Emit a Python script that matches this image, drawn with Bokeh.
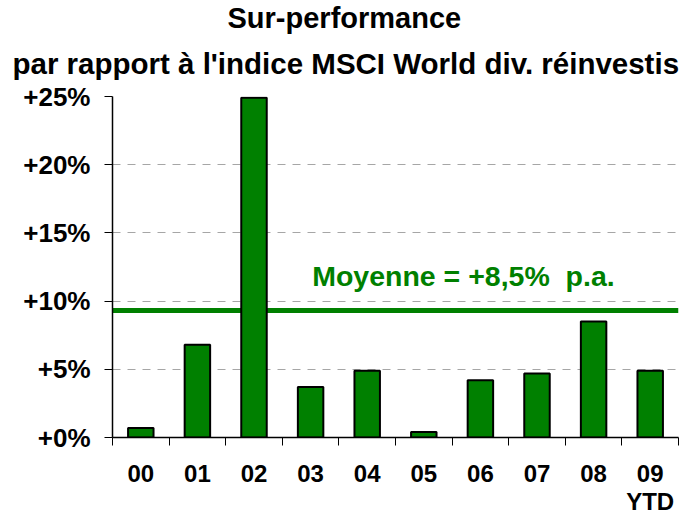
from bokeh.plotting import figure
from bokeh.models import FixedTicker, Label, Title
from bokeh.embed import file_html
from bokeh.resources import INLINE

# ---- data ----
years = ["00", "01", "02", "03", "04", "05", "06", "07", "08", "09\nYTD"]
outperformance = [0.7, 6.8, 24.9, 3.7, 4.9, 0.4, 4.2, 4.7, 8.5, 4.9]
average_level = 9.3
average_text = "Moyenne = +8,5%\u00a0 p.a."
y_ticks = [0, 5, 10, 15, 20, 25]
y_tick_labels = ["+0%", "+5%", "+10%", "+15%", "+20%", "+25%"]
title_lines = ["Sur-performance",
               "par rapport à l'indice MSCI World div. réinvestis"]

GREEN = "#008000"
FONT = "Liberation Sans"

centers = [i + 0.5 for i in range(len(years))]
bounds = list(range(len(years) + 1))

p = figure(frame_width=566, frame_height=341,
           x_range=(0, len(years)), y_range=(0, 25),
           output_backend="svg", toolbar_location=None, title=None,
           min_border_left=112, min_border_right=8, min_border_top=96,
           min_border_bottom=10)
p.outline_line_color = None
p.background_fill_color = "white"
p.border_fill_color = "white"

# average line (below bars)
p.hspan(y=[average_level], line_color=GREEN, line_width=5)

p.vbar(x=centers, top=outperformance, bottom=0, width=0.45,
       fill_color=GREEN, line_color="black", line_width=2)

# x axis
xa = p.xaxis[0]
xa.ticker = FixedTicker(ticks=centers, minor_ticks=bounds)
xa.major_label_overrides = {c: y for c, y in zip(centers, years)}
xa.major_tick_in = 0
xa.major_tick_out = 0
xa.minor_tick_in = 0
xa.minor_tick_out = 8
xa.minor_tick_line_color = "black"
xa.axis_line_color = "black"
xa.axis_line_width = 1.5
xa.major_label_standoff = 14
xa.major_label_text_font = FONT
xa.major_label_text_font_style = "bold"
xa.major_label_text_font_size = "24px"
xa.major_label_text_line_height = 1.05
xa.major_label_text_color = "black"

# y axis
ya = p.yaxis[0]
ya.ticker = FixedTicker(ticks=y_ticks, minor_ticks=[])
ya.major_label_overrides = {t: s for t, s in zip(y_ticks, y_tick_labels)}
ya.major_tick_in = 0
ya.major_tick_out = 8
ya.major_tick_line_color = "black"
ya.axis_line_color = "black"
ya.axis_line_width = 1.5
ya.major_label_standoff = 14
ya.major_label_text_font = FONT
ya.major_label_text_font_style = "bold"
ya.major_label_text_font_size = "26px"
ya.major_label_text_color = "black"

p.xgrid.grid_line_color = None
p.ygrid.grid_line_color = "#A6A6A6"
p.ygrid.grid_line_dash = "8 7"
p.ygrid.grid_line_width = 1

p.add_layout(Label(x=6.2, y=11.85, text=average_text, text_align="center",
                   text_baseline="middle", text_color=GREEN,
                   text_font=FONT, text_font_style="bold",
                   text_font_size="28.5px"))

# titles: add the lower line first (closest to the plot)
title_styles = [("29.5px", -100, 34), ("29px", 115, -12)]
for line, (sz, off, so) in zip(reversed(title_lines), title_styles):
    p.add_layout(Title(text=line, align="left", offset=off,
                       text_color="black", text_font=FONT,
                       text_font_style="bold", text_font_size=sz,
                       standoff=so), "above")

open("out.html", "w").write(file_html(p, INLINE))
